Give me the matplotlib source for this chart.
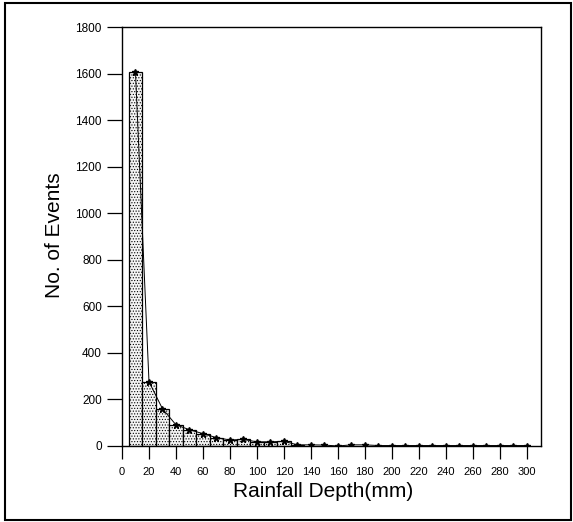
import numpy as np
import matplotlib
matplotlib.use("Agg")
import matplotlib.pyplot as plt
from matplotlib.patches import Rectangle

plt.rcParams['font.family'] = ['Liberation Sans', 'DejaVu Sans']
plt.rcParams['hatch.linewidth'] = 0.5
plt.rcParams['hatch.color'] = '#555555'

# rainfall depth bins (mm) and event counts
depth = [10, 20, 30, 40, 50, 60, 70, 80, 90, 100, 110, 120, 130, 140, 150,
         160, 170, 180, 190, 200, 210, 220, 230, 240, 250, 260, 270, 280, 290, 300]
events = [1605, 276, 160, 91, 70, 53, 36, 26, 28, 18, 18, 20, 5, 5, 4,
          0, 5, 5, 2, 2, 2, 2, 2, 2, 2, 2, 2, 2, 2, 2]
n_bars = 13
xticks = list(range(0, 301, 20))
yticks = list(range(0, 1801, 200))

W, H = 573, 522
fig = plt.figure(figsize=(W / 100, H / 100), dpi=100)
# axes box in pixels: left 122, right 541, top 27, bottom 446
ax = fig.add_axes([122 / W, 1 - 446 / H, (541 - 122) / W, (446 - 27) / H])

# histogram bars with dotted fill
ax.bar(depth[:n_bars], events[:n_bars], width=10, color='#f4f4f4',
       edgecolor='black', linewidth=0.9, hatch='......', zorder=2)
ax.plot(depth, events, color='black', linewidth=0.7, marker='*',
        markersize=5, zorder=3)

ax.set_xlim(0, 310.5)
ax.set_ylim(0, 1800)
ax.set_xticks(xticks)
ax.set_yticks(yticks)
ax.tick_params(axis='x', direction='out', length=9, width=0.9,
               labelsize=8, pad=6)
ax.tick_params(axis='y', direction='out', length=11, width=0.9,
               labelsize=8.5, pad=3.5)
for s in ax.spines.values():
    s.set_linewidth(1.0)

fig.text(323 / W, 1 - 497 / H, 'Rainfall Depth(mm)', fontsize=15,
         ha='center', va='baseline')
fig.text(55 / W, 1 - 235 / H, 'No. of Events', fontsize=15,
         ha='center', va='center', rotation=90)

# outer frame around the whole figure
fig.patches.append(Rectangle((5 / W, 1 - 520 / H), 566 / W, 517 / H,
                             transform=fig.transFigure, fill=False,
                             edgecolor='black', linewidth=1.5))

fig.savefig('out.png', dpi=100)
